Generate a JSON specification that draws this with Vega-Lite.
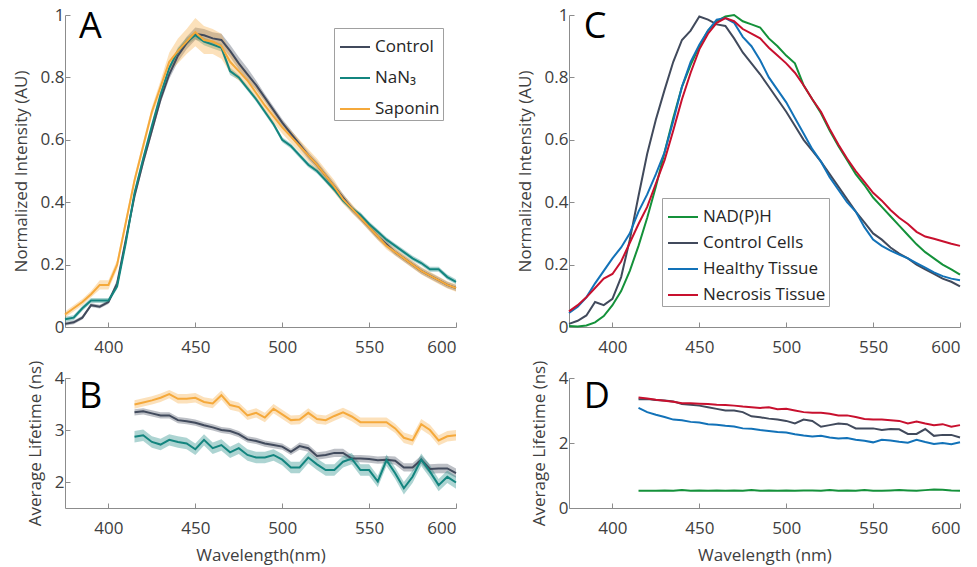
{
"$schema": "https://vega.github.io/schema/vega-lite/v6.json",
"background": "white",
"padding": {"left": 12, "top": 6, "right": 2, "bottom": 2},
"config": {
  "font": "Open Sans",
  "view": {"stroke": null},
  "axis": {"grid": false, "domainColor": "#8c8c8c", "tickColor": "#8c8c8c", "tickSize": -5, "labelColor": "#404040", "titleColor": "#404040", "labelFontSize": 17, "titleFontSize": 17, "titleFontWeight": "normal", "labelFont": "Open Sans", "titleFont": "Open Sans", "format": "~r"},
  "axisX": {"labelPadding": 17, "titlePadding": 11},
  "axisY": {"labelPadding": 6, "titlePadding": 10},
  "legend": {"title": null, "symbolType": "stroke", "symbolSize": 900, "symbolStrokeWidth": 2, "symbolOpacity": 1, "labelFontSize": 17, "labelFont": "Open Sans", "labelColor": "#262626", "strokeColor": "#a0a0a0", "fillColor": "white", "padding": 3, "symbolOffset": 2, "labelOffset": 4}
},
"datasets": {
"a": [
{"s":"Control","w":375,"v":0.01,"e":0.006},{"s":"Control","w":380,"v":0.015,"e":0.006},{"s":"Control","w":385,"v":0.03,"e":0.006},{"s":"Control","w":390,"v":0.07,"e":0.006},{"s":"Control","w":395,"v":0.065,"e":0.006},{"s":"Control","w":400,"v":0.08,"e":0.006},{"s":"Control","w":405,"v":0.14,"e":0.012},{"s":"Control","w":410,"v":0.28,"e":0.012},{"s":"Control","w":415,"v":0.42,"e":0.012},{"s":"Control","w":420,"v":0.53,"e":0.012},{"s":"Control","w":425,"v":0.63,"e":0.012},{"s":"Control","w":430,"v":0.73,"e":0.012},{"s":"Control","w":435,"v":0.81,"e":0.015},{"s":"Control","w":440,"v":0.87,"e":0.02},{"s":"Control","w":445,"v":0.91,"e":0.02},{"s":"Control","w":450,"v":0.94,"e":0.02},{"s":"Control","w":455,"v":0.935,"e":0.02},{"s":"Control","w":460,"v":0.925,"e":0.02},{"s":"Control","w":465,"v":0.92,"e":0.02},{"s":"Control","w":470,"v":0.885,"e":0.02},{"s":"Control","w":475,"v":0.845,"e":0.02},{"s":"Control","w":480,"v":0.81,"e":0.02},{"s":"Control","w":485,"v":0.775,"e":0.015},{"s":"Control","w":490,"v":0.735,"e":0.012},{"s":"Control","w":495,"v":0.695,"e":0.012},{"s":"Control","w":500,"v":0.655,"e":0.012},{"s":"Control","w":505,"v":0.62,"e":0.012},{"s":"Control","w":510,"v":0.585,"e":0.012},{"s":"Control","w":515,"v":0.55,"e":0.012},{"s":"Control","w":520,"v":0.52,"e":0.012},{"s":"Control","w":525,"v":0.485,"e":0.012},{"s":"Control","w":530,"v":0.45,"e":0.012},{"s":"Control","w":535,"v":0.415,"e":0.012},{"s":"Control","w":540,"v":0.38,"e":0.012},{"s":"Control","w":545,"v":0.35,"e":0.01},{"s":"Control","w":550,"v":0.32,"e":0.01},{"s":"Control","w":555,"v":0.29,"e":0.01},{"s":"Control","w":560,"v":0.265,"e":0.01},{"s":"Control","w":565,"v":0.24,"e":0.01},{"s":"Control","w":570,"v":0.22,"e":0.01},{"s":"Control","w":575,"v":0.2,"e":0.01},{"s":"Control","w":580,"v":0.18,"e":0.01},{"s":"Control","w":585,"v":0.165,"e":0.01},{"s":"Control","w":590,"v":0.15,"e":0.01},{"s":"Control","w":595,"v":0.135,"e":0.01},{"s":"Control","w":600,"v":0.125,"e":0.01},
{"s":"NaN₃","w":375,"v":0.025,"e":0.008},{"s":"NaN₃","w":380,"v":0.03,"e":0.008},{"s":"NaN₃","w":385,"v":0.06,"e":0.008},{"s":"NaN₃","w":390,"v":0.085,"e":0.008},{"s":"NaN₃","w":395,"v":0.085,"e":0.008},{"s":"NaN₃","w":400,"v":0.085,"e":0.008},{"s":"NaN₃","w":405,"v":0.13,"e":0.008},{"s":"NaN₃","w":410,"v":0.27,"e":0.008},{"s":"NaN₃","w":415,"v":0.43,"e":0.008},{"s":"NaN₃","w":420,"v":0.54,"e":0.008},{"s":"NaN₃","w":425,"v":0.645,"e":0.008},{"s":"NaN₃","w":430,"v":0.745,"e":0.008},{"s":"NaN₃","w":435,"v":0.83,"e":0.008},{"s":"NaN₃","w":440,"v":0.885,"e":0.012},{"s":"NaN₃","w":445,"v":0.915,"e":0.012},{"s":"NaN₃","w":450,"v":0.935,"e":0.012},{"s":"NaN₃","w":455,"v":0.915,"e":0.012},{"s":"NaN₃","w":460,"v":0.905,"e":0.012},{"s":"NaN₃","w":465,"v":0.895,"e":0.012},{"s":"NaN₃","w":470,"v":0.82,"e":0.012},{"s":"NaN₃","w":475,"v":0.8,"e":0.008},{"s":"NaN₃","w":480,"v":0.765,"e":0.008},{"s":"NaN₃","w":485,"v":0.73,"e":0.008},{"s":"NaN₃","w":490,"v":0.69,"e":0.008},{"s":"NaN₃","w":495,"v":0.65,"e":0.008},{"s":"NaN₃","w":500,"v":0.6,"e":0.008},{"s":"NaN₃","w":505,"v":0.58,"e":0.008},{"s":"NaN₃","w":510,"v":0.55,"e":0.008},{"s":"NaN₃","w":515,"v":0.52,"e":0.008},{"s":"NaN₃","w":520,"v":0.5,"e":0.008},{"s":"NaN₃","w":525,"v":0.47,"e":0.008},{"s":"NaN₃","w":530,"v":0.44,"e":0.008},{"s":"NaN₃","w":535,"v":0.405,"e":0.008},{"s":"NaN₃","w":540,"v":0.38,"e":0.008},{"s":"NaN₃","w":545,"v":0.36,"e":0.008},{"s":"NaN₃","w":550,"v":0.33,"e":0.008},{"s":"NaN₃","w":555,"v":0.305,"e":0.008},{"s":"NaN₃","w":560,"v":0.28,"e":0.008},{"s":"NaN₃","w":565,"v":0.26,"e":0.008},{"s":"NaN₃","w":570,"v":0.24,"e":0.008},{"s":"NaN₃","w":575,"v":0.22,"e":0.008},{"s":"NaN₃","w":580,"v":0.205,"e":0.008},{"s":"NaN₃","w":585,"v":0.185,"e":0.008},{"s":"NaN₃","w":590,"v":0.185,"e":0.008},{"s":"NaN₃","w":595,"v":0.16,"e":0.008},{"s":"NaN₃","w":600,"v":0.145,"e":0.008},
{"s":"Saponin","w":375,"v":0.04,"e":0.01},{"s":"Saponin","w":380,"v":0.06,"e":0.01},{"s":"Saponin","w":385,"v":0.08,"e":0.01},{"s":"Saponin","w":390,"v":0.105,"e":0.01},{"s":"Saponin","w":395,"v":0.135,"e":0.015},{"s":"Saponin","w":400,"v":0.135,"e":0.015},{"s":"Saponin","w":405,"v":0.2,"e":0.015},{"s":"Saponin","w":410,"v":0.335,"e":0.015},{"s":"Saponin","w":415,"v":0.47,"e":0.015},{"s":"Saponin","w":420,"v":0.58,"e":0.015},{"s":"Saponin","w":425,"v":0.69,"e":0.015},{"s":"Saponin","w":430,"v":0.77,"e":0.02},{"s":"Saponin","w":435,"v":0.85,"e":0.03},{"s":"Saponin","w":440,"v":0.885,"e":0.04},{"s":"Saponin","w":445,"v":0.915,"e":0.04},{"s":"Saponin","w":450,"v":0.945,"e":0.045},{"s":"Saponin","w":455,"v":0.92,"e":0.045},{"s":"Saponin","w":460,"v":0.915,"e":0.04},{"s":"Saponin","w":465,"v":0.9,"e":0.04},{"s":"Saponin","w":470,"v":0.85,"e":0.035},{"s":"Saponin","w":475,"v":0.82,"e":0.03},{"s":"Saponin","w":480,"v":0.79,"e":0.025},{"s":"Saponin","w":485,"v":0.75,"e":0.02},{"s":"Saponin","w":490,"v":0.71,"e":0.02},{"s":"Saponin","w":495,"v":0.675,"e":0.02},{"s":"Saponin","w":500,"v":0.64,"e":0.02},{"s":"Saponin","w":505,"v":0.61,"e":0.02},{"s":"Saponin","w":510,"v":0.58,"e":0.02},{"s":"Saponin","w":515,"v":0.55,"e":0.02},{"s":"Saponin","w":520,"v":0.52,"e":0.02},{"s":"Saponin","w":525,"v":0.485,"e":0.02},{"s":"Saponin","w":530,"v":0.45,"e":0.02},{"s":"Saponin","w":535,"v":0.41,"e":0.015},{"s":"Saponin","w":540,"v":0.38,"e":0.015},{"s":"Saponin","w":545,"v":0.35,"e":0.012},{"s":"Saponin","w":550,"v":0.32,"e":0.012},{"s":"Saponin","w":555,"v":0.29,"e":0.012},{"s":"Saponin","w":560,"v":0.26,"e":0.012},{"s":"Saponin","w":565,"v":0.24,"e":0.012},{"s":"Saponin","w":570,"v":0.22,"e":0.012},{"s":"Saponin","w":575,"v":0.2,"e":0.012},{"s":"Saponin","w":580,"v":0.18,"e":0.012},{"s":"Saponin","w":585,"v":0.165,"e":0.012},{"s":"Saponin","w":590,"v":0.15,"e":0.012},{"s":"Saponin","w":595,"v":0.135,"e":0.012},{"s":"Saponin","w":600,"v":0.125,"e":0.012}
],
"b": [
{"s":"Control","w":415,"v":3.34,"e":0.06},{"s":"Control","w":420,"v":3.36,"e":0.06},{"s":"Control","w":425,"v":3.32,"e":0.06},{"s":"Control","w":430,"v":3.28,"e":0.06},{"s":"Control","w":435,"v":3.28,"e":0.06},{"s":"Control","w":440,"v":3.19,"e":0.06},{"s":"Control","w":445,"v":3.17,"e":0.06},{"s":"Control","w":450,"v":3.14,"e":0.06},{"s":"Control","w":455,"v":3.09,"e":0.06},{"s":"Control","w":460,"v":3.05,"e":0.06},{"s":"Control","w":465,"v":3.0,"e":0.06},{"s":"Control","w":470,"v":2.98,"e":0.06},{"s":"Control","w":475,"v":2.92,"e":0.06},{"s":"Control","w":480,"v":2.82,"e":0.06},{"s":"Control","w":485,"v":2.79,"e":0.06},{"s":"Control","w":490,"v":2.74,"e":0.06},{"s":"Control","w":495,"v":2.71,"e":0.06},{"s":"Control","w":500,"v":2.68,"e":0.06},{"s":"Control","w":505,"v":2.58,"e":0.06},{"s":"Control","w":510,"v":2.69,"e":0.07},{"s":"Control","w":515,"v":2.65,"e":0.07},{"s":"Control","w":520,"v":2.5,"e":0.07},{"s":"Control","w":525,"v":2.52,"e":0.07},{"s":"Control","w":530,"v":2.56,"e":0.08},{"s":"Control","w":535,"v":2.56,"e":0.08},{"s":"Control","w":540,"v":2.45,"e":0.07},{"s":"Control","w":545,"v":2.45,"e":0.07},{"s":"Control","w":550,"v":2.44,"e":0.07},{"s":"Control","w":555,"v":2.42,"e":0.07},{"s":"Control","w":560,"v":2.43,"e":0.07},{"s":"Control","w":565,"v":2.41,"e":0.08},{"s":"Control","w":570,"v":2.28,"e":0.08},{"s":"Control","w":575,"v":2.28,"e":0.08},{"s":"Control","w":580,"v":2.43,"e":0.08},{"s":"Control","w":585,"v":2.25,"e":0.09},{"s":"Control","w":590,"v":2.26,"e":0.09},{"s":"Control","w":595,"v":2.26,"e":0.09},{"s":"Control","w":600,"v":2.17,"e":0.09},
{"s":"NaN₃","w":415,"v":2.87,"e":0.11},{"s":"NaN₃","w":420,"v":2.9,"e":0.11},{"s":"NaN₃","w":425,"v":2.77,"e":0.11},{"s":"NaN₃","w":430,"v":2.72,"e":0.11},{"s":"NaN₃","w":435,"v":2.81,"e":0.11},{"s":"NaN₃","w":440,"v":2.77,"e":0.11},{"s":"NaN₃","w":445,"v":2.74,"e":0.11},{"s":"NaN₃","w":450,"v":2.63,"e":0.11},{"s":"NaN₃","w":455,"v":2.81,"e":0.11},{"s":"NaN₃","w":460,"v":2.65,"e":0.11},{"s":"NaN₃","w":465,"v":2.71,"e":0.11},{"s":"NaN₃","w":470,"v":2.57,"e":0.11},{"s":"NaN₃","w":475,"v":2.65,"e":0.11},{"s":"NaN₃","w":480,"v":2.52,"e":0.11},{"s":"NaN₃","w":485,"v":2.47,"e":0.11},{"s":"NaN₃","w":490,"v":2.47,"e":0.11},{"s":"NaN₃","w":495,"v":2.52,"e":0.11},{"s":"NaN₃","w":500,"v":2.43,"e":0.11},{"s":"NaN₃","w":505,"v":2.28,"e":0.11},{"s":"NaN₃","w":510,"v":2.28,"e":0.11},{"s":"NaN₃","w":515,"v":2.47,"e":0.11},{"s":"NaN₃","w":520,"v":2.34,"e":0.11},{"s":"NaN₃","w":525,"v":2.23,"e":0.11},{"s":"NaN₃","w":530,"v":2.23,"e":0.11},{"s":"NaN₃","w":535,"v":2.39,"e":0.11},{"s":"NaN₃","w":540,"v":2.45,"e":0.11},{"s":"NaN₃","w":545,"v":2.23,"e":0.11},{"s":"NaN₃","w":550,"v":2.23,"e":0.11},{"s":"NaN₃","w":555,"v":2.01,"e":0.11},{"s":"NaN₃","w":560,"v":2.42,"e":0.11},{"s":"NaN₃","w":565,"v":2.17,"e":0.11},{"s":"NaN₃","w":570,"v":1.88,"e":0.12},{"s":"NaN₃","w":575,"v":2.1,"e":0.12},{"s":"NaN₃","w":580,"v":2.43,"e":0.12},{"s":"NaN₃","w":585,"v":2.2,"e":0.12},{"s":"NaN₃","w":590,"v":1.94,"e":0.12},{"s":"NaN₃","w":595,"v":2.1,"e":0.12},{"s":"NaN₃","w":600,"v":1.99,"e":0.12},
{"s":"Saponin","w":415,"v":3.49,"e":0.08},{"s":"Saponin","w":420,"v":3.53,"e":0.08},{"s":"Saponin","w":425,"v":3.57,"e":0.08},{"s":"Saponin","w":430,"v":3.62,"e":0.08},{"s":"Saponin","w":435,"v":3.69,"e":0.08},{"s":"Saponin","w":440,"v":3.6,"e":0.09},{"s":"Saponin","w":445,"v":3.6,"e":0.09},{"s":"Saponin","w":450,"v":3.62,"e":0.09},{"s":"Saponin","w":455,"v":3.54,"e":0.09},{"s":"Saponin","w":460,"v":3.51,"e":0.09},{"s":"Saponin","w":465,"v":3.67,"e":0.09},{"s":"Saponin","w":470,"v":3.48,"e":0.09},{"s":"Saponin","w":475,"v":3.44,"e":0.09},{"s":"Saponin","w":480,"v":3.28,"e":0.09},{"s":"Saponin","w":485,"v":3.33,"e":0.09},{"s":"Saponin","w":490,"v":3.24,"e":0.09},{"s":"Saponin","w":495,"v":3.41,"e":0.09},{"s":"Saponin","w":500,"v":3.3,"e":0.09},{"s":"Saponin","w":505,"v":3.19,"e":0.09},{"s":"Saponin","w":510,"v":3.2,"e":0.09},{"s":"Saponin","w":515,"v":3.33,"e":0.09},{"s":"Saponin","w":520,"v":3.21,"e":0.09},{"s":"Saponin","w":525,"v":3.19,"e":0.09},{"s":"Saponin","w":530,"v":3.27,"e":0.09},{"s":"Saponin","w":535,"v":3.34,"e":0.09},{"s":"Saponin","w":540,"v":3.26,"e":0.09},{"s":"Saponin","w":545,"v":3.15,"e":0.09},{"s":"Saponin","w":550,"v":3.15,"e":0.09},{"s":"Saponin","w":555,"v":3.15,"e":0.09},{"s":"Saponin","w":560,"v":3.15,"e":0.09},{"s":"Saponin","w":565,"v":3.03,"e":0.09},{"s":"Saponin","w":570,"v":2.85,"e":0.1},{"s":"Saponin","w":575,"v":2.8,"e":0.1},{"s":"Saponin","w":580,"v":3.11,"e":0.1},{"s":"Saponin","w":585,"v":3.0,"e":0.1},{"s":"Saponin","w":590,"v":2.8,"e":0.1},{"s":"Saponin","w":595,"v":2.88,"e":0.1},{"s":"Saponin","w":600,"v":2.9,"e":0.1}
],
"c": [
{"s":"NAD(P)H","w":375,"v":0.003},{"s":"NAD(P)H","w":380,"v":0.002},{"s":"NAD(P)H","w":385,"v":0.005},{"s":"NAD(P)H","w":390,"v":0.015},{"s":"NAD(P)H","w":395,"v":0.035},{"s":"NAD(P)H","w":400,"v":0.07},{"s":"NAD(P)H","w":405,"v":0.115},{"s":"NAD(P)H","w":410,"v":0.18},{"s":"NAD(P)H","w":415,"v":0.26},{"s":"NAD(P)H","w":420,"v":0.35},{"s":"NAD(P)H","w":425,"v":0.45},{"s":"NAD(P)H","w":430,"v":0.56},{"s":"NAD(P)H","w":435,"v":0.67},{"s":"NAD(P)H","w":440,"v":0.77},{"s":"NAD(P)H","w":445,"v":0.84},{"s":"NAD(P)H","w":450,"v":0.9},{"s":"NAD(P)H","w":455,"v":0.95},{"s":"NAD(P)H","w":460,"v":0.98},{"s":"NAD(P)H","w":465,"v":0.995},{"s":"NAD(P)H","w":470,"v":1.0},{"s":"NAD(P)H","w":475,"v":0.98},{"s":"NAD(P)H","w":480,"v":0.97},{"s":"NAD(P)H","w":485,"v":0.96},{"s":"NAD(P)H","w":490,"v":0.925},{"s":"NAD(P)H","w":495,"v":0.9},{"s":"NAD(P)H","w":500,"v":0.87},{"s":"NAD(P)H","w":505,"v":0.845},{"s":"NAD(P)H","w":510,"v":0.775},{"s":"NAD(P)H","w":515,"v":0.73},{"s":"NAD(P)H","w":520,"v":0.685},{"s":"NAD(P)H","w":525,"v":0.63},{"s":"NAD(P)H","w":530,"v":0.58},{"s":"NAD(P)H","w":535,"v":0.535},{"s":"NAD(P)H","w":540,"v":0.49},{"s":"NAD(P)H","w":545,"v":0.455},{"s":"NAD(P)H","w":550,"v":0.415},{"s":"NAD(P)H","w":555,"v":0.385},{"s":"NAD(P)H","w":560,"v":0.355},{"s":"NAD(P)H","w":565,"v":0.325},{"s":"NAD(P)H","w":570,"v":0.295},{"s":"NAD(P)H","w":575,"v":0.265},{"s":"NAD(P)H","w":580,"v":0.24},{"s":"NAD(P)H","w":585,"v":0.22},{"s":"NAD(P)H","w":590,"v":0.2},{"s":"NAD(P)H","w":595,"v":0.185},{"s":"NAD(P)H","w":600,"v":0.168},
{"s":"Control Cells","w":375,"v":0.01},{"s":"Control Cells","w":380,"v":0.02},{"s":"Control Cells","w":385,"v":0.037},{"s":"Control Cells","w":390,"v":0.08},{"s":"Control Cells","w":395,"v":0.07},{"s":"Control Cells","w":400,"v":0.09},{"s":"Control Cells","w":405,"v":0.16},{"s":"Control Cells","w":410,"v":0.28},{"s":"Control Cells","w":415,"v":0.42},{"s":"Control Cells","w":420,"v":0.555},{"s":"Control Cells","w":425,"v":0.665},{"s":"Control Cells","w":430,"v":0.76},{"s":"Control Cells","w":435,"v":0.85},{"s":"Control Cells","w":440,"v":0.92},{"s":"Control Cells","w":445,"v":0.95},{"s":"Control Cells","w":450,"v":0.995},{"s":"Control Cells","w":455,"v":0.985},{"s":"Control Cells","w":460,"v":0.97},{"s":"Control Cells","w":465,"v":0.965},{"s":"Control Cells","w":470,"v":0.925},{"s":"Control Cells","w":475,"v":0.88},{"s":"Control Cells","w":480,"v":0.845},{"s":"Control Cells","w":485,"v":0.81},{"s":"Control Cells","w":490,"v":0.77},{"s":"Control Cells","w":495,"v":0.73},{"s":"Control Cells","w":500,"v":0.69},{"s":"Control Cells","w":505,"v":0.645},{"s":"Control Cells","w":510,"v":0.6},{"s":"Control Cells","w":515,"v":0.565},{"s":"Control Cells","w":520,"v":0.53},{"s":"Control Cells","w":525,"v":0.49},{"s":"Control Cells","w":530,"v":0.45},{"s":"Control Cells","w":535,"v":0.41},{"s":"Control Cells","w":540,"v":0.37},{"s":"Control Cells","w":545,"v":0.335},{"s":"Control Cells","w":550,"v":0.3},{"s":"Control Cells","w":555,"v":0.28},{"s":"Control Cells","w":560,"v":0.255},{"s":"Control Cells","w":565,"v":0.235},{"s":"Control Cells","w":570,"v":0.22},{"s":"Control Cells","w":575,"v":0.2},{"s":"Control Cells","w":580,"v":0.185},{"s":"Control Cells","w":585,"v":0.17},{"s":"Control Cells","w":590,"v":0.155},{"s":"Control Cells","w":595,"v":0.145},{"s":"Control Cells","w":600,"v":0.13},
{"s":"Healthy Tissue","w":375,"v":0.045},{"s":"Healthy Tissue","w":380,"v":0.065},{"s":"Healthy Tissue","w":385,"v":0.095},{"s":"Healthy Tissue","w":390,"v":0.14},{"s":"Healthy Tissue","w":395,"v":0.18},{"s":"Healthy Tissue","w":400,"v":0.22},{"s":"Healthy Tissue","w":405,"v":0.255},{"s":"Healthy Tissue","w":410,"v":0.3},{"s":"Healthy Tissue","w":415,"v":0.37},{"s":"Healthy Tissue","w":420,"v":0.425},{"s":"Healthy Tissue","w":425,"v":0.49},{"s":"Healthy Tissue","w":430,"v":0.56},{"s":"Healthy Tissue","w":435,"v":0.66},{"s":"Healthy Tissue","w":440,"v":0.77},{"s":"Healthy Tissue","w":445,"v":0.85},{"s":"Healthy Tissue","w":450,"v":0.905},{"s":"Healthy Tissue","w":455,"v":0.95},{"s":"Healthy Tissue","w":460,"v":0.985},{"s":"Healthy Tissue","w":465,"v":0.99},{"s":"Healthy Tissue","w":470,"v":0.975},{"s":"Healthy Tissue","w":475,"v":0.93},{"s":"Healthy Tissue","w":480,"v":0.9},{"s":"Healthy Tissue","w":485,"v":0.855},{"s":"Healthy Tissue","w":490,"v":0.8},{"s":"Healthy Tissue","w":495,"v":0.76},{"s":"Healthy Tissue","w":500,"v":0.72},{"s":"Healthy Tissue","w":505,"v":0.67},{"s":"Healthy Tissue","w":510,"v":0.62},{"s":"Healthy Tissue","w":515,"v":0.57},{"s":"Healthy Tissue","w":520,"v":0.53},{"s":"Healthy Tissue","w":525,"v":0.48},{"s":"Healthy Tissue","w":530,"v":0.44},{"s":"Healthy Tissue","w":535,"v":0.4},{"s":"Healthy Tissue","w":540,"v":0.37},{"s":"Healthy Tissue","w":545,"v":0.32},{"s":"Healthy Tissue","w":550,"v":0.28},{"s":"Healthy Tissue","w":555,"v":0.26},{"s":"Healthy Tissue","w":560,"v":0.245},{"s":"Healthy Tissue","w":565,"v":0.232},{"s":"Healthy Tissue","w":570,"v":0.22},{"s":"Healthy Tissue","w":575,"v":0.205},{"s":"Healthy Tissue","w":580,"v":0.19},{"s":"Healthy Tissue","w":585,"v":0.175},{"s":"Healthy Tissue","w":590,"v":0.163},{"s":"Healthy Tissue","w":595,"v":0.155},{"s":"Healthy Tissue","w":600,"v":0.15},
{"s":"Necrosis Tissue","w":375,"v":0.05},{"s":"Necrosis Tissue","w":380,"v":0.07},{"s":"Necrosis Tissue","w":385,"v":0.095},{"s":"Necrosis Tissue","w":390,"v":0.125},{"s":"Necrosis Tissue","w":395,"v":0.155},{"s":"Necrosis Tissue","w":400,"v":0.17},{"s":"Necrosis Tissue","w":405,"v":0.21},{"s":"Necrosis Tissue","w":410,"v":0.27},{"s":"Necrosis Tissue","w":415,"v":0.33},{"s":"Necrosis Tissue","w":420,"v":0.385},{"s":"Necrosis Tissue","w":425,"v":0.46},{"s":"Necrosis Tissue","w":430,"v":0.535},{"s":"Necrosis Tissue","w":435,"v":0.63},{"s":"Necrosis Tissue","w":440,"v":0.73},{"s":"Necrosis Tissue","w":445,"v":0.815},{"s":"Necrosis Tissue","w":450,"v":0.89},{"s":"Necrosis Tissue","w":455,"v":0.94},{"s":"Necrosis Tissue","w":460,"v":0.975},{"s":"Necrosis Tissue","w":465,"v":0.99},{"s":"Necrosis Tissue","w":470,"v":0.98},{"s":"Necrosis Tissue","w":475,"v":0.955},{"s":"Necrosis Tissue","w":480,"v":0.94},{"s":"Necrosis Tissue","w":485,"v":0.925},{"s":"Necrosis Tissue","w":490,"v":0.895},{"s":"Necrosis Tissue","w":495,"v":0.87},{"s":"Necrosis Tissue","w":500,"v":0.845},{"s":"Necrosis Tissue","w":505,"v":0.815},{"s":"Necrosis Tissue","w":510,"v":0.775},{"s":"Necrosis Tissue","w":515,"v":0.73},{"s":"Necrosis Tissue","w":520,"v":0.69},{"s":"Necrosis Tissue","w":525,"v":0.635},{"s":"Necrosis Tissue","w":530,"v":0.585},{"s":"Necrosis Tissue","w":535,"v":0.54},{"s":"Necrosis Tissue","w":540,"v":0.5},{"s":"Necrosis Tissue","w":545,"v":0.465},{"s":"Necrosis Tissue","w":550,"v":0.43},{"s":"Necrosis Tissue","w":555,"v":0.405},{"s":"Necrosis Tissue","w":560,"v":0.375},{"s":"Necrosis Tissue","w":565,"v":0.35},{"s":"Necrosis Tissue","w":570,"v":0.33},{"s":"Necrosis Tissue","w":575,"v":0.305},{"s":"Necrosis Tissue","w":580,"v":0.29},{"s":"Necrosis Tissue","w":585,"v":0.283},{"s":"Necrosis Tissue","w":590,"v":0.275},{"s":"Necrosis Tissue","w":595,"v":0.267},{"s":"Necrosis Tissue","w":600,"v":0.26}
],
"d": [
{"s":"NAD(P)H","w":415,"v":0.53},{"s":"NAD(P)H","w":420,"v":0.53},{"s":"NAD(P)H","w":425,"v":0.53},{"s":"NAD(P)H","w":430,"v":0.54},{"s":"NAD(P)H","w":435,"v":0.53},{"s":"NAD(P)H","w":440,"v":0.55},{"s":"NAD(P)H","w":445,"v":0.53},{"s":"NAD(P)H","w":450,"v":0.54},{"s":"NAD(P)H","w":455,"v":0.53},{"s":"NAD(P)H","w":460,"v":0.54},{"s":"NAD(P)H","w":465,"v":0.53},{"s":"NAD(P)H","w":470,"v":0.54},{"s":"NAD(P)H","w":475,"v":0.53},{"s":"NAD(P)H","w":480,"v":0.55},{"s":"NAD(P)H","w":485,"v":0.53},{"s":"NAD(P)H","w":490,"v":0.54},{"s":"NAD(P)H","w":495,"v":0.53},{"s":"NAD(P)H","w":500,"v":0.54},{"s":"NAD(P)H","w":505,"v":0.53},{"s":"NAD(P)H","w":510,"v":0.54},{"s":"NAD(P)H","w":515,"v":0.54},{"s":"NAD(P)H","w":520,"v":0.53},{"s":"NAD(P)H","w":525,"v":0.55},{"s":"NAD(P)H","w":530,"v":0.53},{"s":"NAD(P)H","w":535,"v":0.54},{"s":"NAD(P)H","w":540,"v":0.53},{"s":"NAD(P)H","w":545,"v":0.55},{"s":"NAD(P)H","w":550,"v":0.53},{"s":"NAD(P)H","w":555,"v":0.53},{"s":"NAD(P)H","w":560,"v":0.54},{"s":"NAD(P)H","w":565,"v":0.55},{"s":"NAD(P)H","w":570,"v":0.54},{"s":"NAD(P)H","w":575,"v":0.53},{"s":"NAD(P)H","w":580,"v":0.55},{"s":"NAD(P)H","w":585,"v":0.57},{"s":"NAD(P)H","w":590,"v":0.56},{"s":"NAD(P)H","w":595,"v":0.54},{"s":"NAD(P)H","w":600,"v":0.53},
{"s":"Control Cells","w":415,"v":3.35},{"s":"Control Cells","w":420,"v":3.35},{"s":"Control Cells","w":425,"v":3.32},{"s":"Control Cells","w":430,"v":3.31},{"s":"Control Cells","w":435,"v":3.28},{"s":"Control Cells","w":440,"v":3.2},{"s":"Control Cells","w":445,"v":3.18},{"s":"Control Cells","w":450,"v":3.15},{"s":"Control Cells","w":455,"v":3.1},{"s":"Control Cells","w":460,"v":3.05},{"s":"Control Cells","w":465,"v":3.0},{"s":"Control Cells","w":470,"v":3.0},{"s":"Control Cells","w":475,"v":2.95},{"s":"Control Cells","w":480,"v":2.82},{"s":"Control Cells","w":485,"v":2.79},{"s":"Control Cells","w":490,"v":2.75},{"s":"Control Cells","w":495,"v":2.72},{"s":"Control Cells","w":500,"v":2.68},{"s":"Control Cells","w":505,"v":2.6},{"s":"Control Cells","w":510,"v":2.72},{"s":"Control Cells","w":515,"v":2.68},{"s":"Control Cells","w":520,"v":2.5},{"s":"Control Cells","w":525,"v":2.55},{"s":"Control Cells","w":530,"v":2.6},{"s":"Control Cells","w":535,"v":2.58},{"s":"Control Cells","w":540,"v":2.45},{"s":"Control Cells","w":545,"v":2.45},{"s":"Control Cells","w":550,"v":2.45},{"s":"Control Cells","w":555,"v":2.4},{"s":"Control Cells","w":560,"v":2.43},{"s":"Control Cells","w":565,"v":2.42},{"s":"Control Cells","w":570,"v":2.28},{"s":"Control Cells","w":575,"v":2.28},{"s":"Control Cells","w":580,"v":2.43},{"s":"Control Cells","w":585,"v":2.22},{"s":"Control Cells","w":590,"v":2.25},{"s":"Control Cells","w":595,"v":2.25},{"s":"Control Cells","w":600,"v":2.17},
{"s":"Healthy Tissue","w":415,"v":3.08},{"s":"Healthy Tissue","w":420,"v":2.95},{"s":"Healthy Tissue","w":425,"v":2.87},{"s":"Healthy Tissue","w":430,"v":2.8},{"s":"Healthy Tissue","w":435,"v":2.72},{"s":"Healthy Tissue","w":440,"v":2.7},{"s":"Healthy Tissue","w":445,"v":2.65},{"s":"Healthy Tissue","w":450,"v":2.63},{"s":"Healthy Tissue","w":455,"v":2.58},{"s":"Healthy Tissue","w":460,"v":2.56},{"s":"Healthy Tissue","w":465,"v":2.53},{"s":"Healthy Tissue","w":470,"v":2.51},{"s":"Healthy Tissue","w":475,"v":2.45},{"s":"Healthy Tissue","w":480,"v":2.44},{"s":"Healthy Tissue","w":485,"v":2.4},{"s":"Healthy Tissue","w":490,"v":2.37},{"s":"Healthy Tissue","w":495,"v":2.34},{"s":"Healthy Tissue","w":500,"v":2.32},{"s":"Healthy Tissue","w":505,"v":2.27},{"s":"Healthy Tissue","w":510,"v":2.23},{"s":"Healthy Tissue","w":515,"v":2.2},{"s":"Healthy Tissue","w":520,"v":2.22},{"s":"Healthy Tissue","w":525,"v":2.17},{"s":"Healthy Tissue","w":530,"v":2.14},{"s":"Healthy Tissue","w":535,"v":2.15},{"s":"Healthy Tissue","w":540,"v":2.1},{"s":"Healthy Tissue","w":545,"v":2.07},{"s":"Healthy Tissue","w":550,"v":2.02},{"s":"Healthy Tissue","w":555,"v":2.1},{"s":"Healthy Tissue","w":560,"v":2.08},{"s":"Healthy Tissue","w":565,"v":2.04},{"s":"Healthy Tissue","w":570,"v":2.01},{"s":"Healthy Tissue","w":575,"v":2.1},{"s":"Healthy Tissue","w":580,"v":2.03},{"s":"Healthy Tissue","w":585,"v":1.97},{"s":"Healthy Tissue","w":590,"v":2.0},{"s":"Healthy Tissue","w":595,"v":1.96},{"s":"Healthy Tissue","w":600,"v":2.02},
{"s":"Necrosis Tissue","w":415,"v":3.4},{"s":"Necrosis Tissue","w":420,"v":3.37},{"s":"Necrosis Tissue","w":425,"v":3.33},{"s":"Necrosis Tissue","w":430,"v":3.3},{"s":"Necrosis Tissue","w":435,"v":3.27},{"s":"Necrosis Tissue","w":440,"v":3.22},{"s":"Necrosis Tissue","w":445,"v":3.22},{"s":"Necrosis Tissue","w":450,"v":3.21},{"s":"Necrosis Tissue","w":455,"v":3.2},{"s":"Necrosis Tissue","w":460,"v":3.18},{"s":"Necrosis Tissue","w":465,"v":3.17},{"s":"Necrosis Tissue","w":470,"v":3.15},{"s":"Necrosis Tissue","w":475,"v":3.12},{"s":"Necrosis Tissue","w":480,"v":3.1},{"s":"Necrosis Tissue","w":485,"v":3.08},{"s":"Necrosis Tissue","w":490,"v":3.1},{"s":"Necrosis Tissue","w":495,"v":3.04},{"s":"Necrosis Tissue","w":500,"v":3.05},{"s":"Necrosis Tissue","w":505,"v":3.0},{"s":"Necrosis Tissue","w":510,"v":2.95},{"s":"Necrosis Tissue","w":515,"v":2.93},{"s":"Necrosis Tissue","w":520,"v":2.93},{"s":"Necrosis Tissue","w":525,"v":2.9},{"s":"Necrosis Tissue","w":530,"v":2.85},{"s":"Necrosis Tissue","w":535,"v":2.85},{"s":"Necrosis Tissue","w":540,"v":2.8},{"s":"Necrosis Tissue","w":545,"v":2.74},{"s":"Necrosis Tissue","w":550,"v":2.72},{"s":"Necrosis Tissue","w":555,"v":2.72},{"s":"Necrosis Tissue","w":560,"v":2.7},{"s":"Necrosis Tissue","w":565,"v":2.68},{"s":"Necrosis Tissue","w":570,"v":2.6},{"s":"Necrosis Tissue","w":575,"v":2.66},{"s":"Necrosis Tissue","w":580,"v":2.6},{"s":"Necrosis Tissue","w":585,"v":2.55},{"s":"Necrosis Tissue","w":590,"v":2.58},{"s":"Necrosis Tissue","w":595,"v":2.5},{"s":"Necrosis Tissue","w":600,"v":2.55}
]
},
"columns": 2,
"spacing": {"row": 51, "column": 113},
"bounds": "flush",
"resolve": {"scale": {"color": "independent"}, "legend": {"color": "independent"}},
"concat": [
  {"width": 391, "height": 312, "data": {"name": "a"},
   "layer": [
    {"mark": {"type": "errorband", "band": {"opacity": 0.35}},
     "encoding": {
      "x": {"field": "w", "type": "quantitative", "scale": {"domain": [375, 600], "nice": false}, "axis": {"values": [400, 450, 500, 550, 600], "title": null}},
      "y": {"field": "v", "type": "quantitative", "scale": {"domain": [0, 1], "nice": false}, "axis": {"values": [0, 0.2, 0.4, 0.6, 0.8, 1], "title": "Normalized Intensity (AU)"}},
      "yError": {"field": "e"},
      "color": {"field": "s", "type": "nominal", "scale": {"domain": ["Control", "NaN₃", "Saponin"], "range": ["#414a5c", "#13857f", "#f5a93b"]}, "legend": {"orient": "top-right", "offset": 13, "rowPadding": 7}}}},
    {"mark": {"type": "line", "strokeWidth": 2},
     "encoding": {
      "x": {"field": "w", "type": "quantitative"},
      "y": {"field": "v", "type": "quantitative"},
      "color": {"field": "s", "type": "nominal", "legend": {"orient": "top-right", "offset": 13, "rowPadding": 7}}}},
    {"data": {"values": [{"t": "A", "w": 383, "v": 0.926}]},
     "mark": {"type": "text", "align": "left", "baseline": "alphabetic", "fontSize": 36, "font": "Open Sans", "color": "black"},
     "encoding": {"x": {"field": "w", "type": "quantitative"}, "y": {"field": "v", "type": "quantitative"}, "text": {"field": "t"}}}
   ]},
  {"width": 391, "height": 312, "data": {"name": "c"},
   "layer": [
    {"mark": {"type": "line", "strokeWidth": 2},
     "encoding": {
      "x": {"field": "w", "type": "quantitative", "scale": {"domain": [375, 600], "nice": false}, "axis": {"values": [400, 450, 500, 550, 600], "title": null}},
      "y": {"field": "v", "type": "quantitative", "scale": {"domain": [0, 1], "nice": false}, "axis": {"values": [0, 0.2, 0.4, 0.6, 0.8, 1], "title": "Normalized Intensity (AU)"}},
      "color": {"field": "s", "type": "nominal", "scale": {"domain": ["NAD(P)H", "Control Cells", "Healthy Tissue", "Necrosis Tissue"], "range": ["#14913a", "#414a5c", "#1272b8", "#c8102e"]}, "legend": {"orient": "none", "legendX": 93, "legendY": 183, "rowPadding": 2}}}},
    {"data": {"values": [{"t": "C", "w": 383.5, "v": 0.926}]},
     "mark": {"type": "text", "align": "left", "baseline": "alphabetic", "fontSize": 36, "font": "Open Sans", "color": "black"},
     "encoding": {"x": {"field": "w", "type": "quantitative"}, "y": {"field": "v", "type": "quantitative"}, "text": {"field": "t"}}}
   ]},
  {"width": 391, "height": 130, "data": {"name": "b"},
   "layer": [
    {"mark": {"type": "errorband", "band": {"opacity": 0.35}},
     "encoding": {
      "x": {"field": "w", "type": "quantitative", "scale": {"domain": [375, 600], "nice": false}, "axis": {"values": [400, 450, 500, 550, 600], "title": "Wavelength(nm)"}},
      "y": {"field": "v", "type": "quantitative", "scale": {"domain": [1.5, 4], "nice": false}, "axis": {"values": [2, 3, 4], "title": "Average Lifetime (ns)"}},
      "yError": {"field": "e"},
      "color": {"field": "s", "type": "nominal", "scale": {"domain": ["Control", "NaN₃", "Saponin"], "range": ["#414a5c", "#13857f", "#f5a93b"]}, "legend": null}}},
    {"mark": {"type": "line", "strokeWidth": 2},
     "encoding": {
      "x": {"field": "w", "type": "quantitative"},
      "y": {"field": "v", "type": "quantitative"},
      "color": {"field": "s", "type": "nominal", "legend": null}}},
    {"data": {"values": [{"t": "B", "w": 383, "v": 3.42}]},
     "mark": {"type": "text", "align": "left", "baseline": "alphabetic", "fontSize": 36, "font": "Open Sans", "color": "black"},
     "encoding": {"x": {"field": "w", "type": "quantitative"}, "y": {"field": "v", "type": "quantitative"}, "text": {"field": "t"}}}
   ]},
  {"width": 391, "height": 130, "data": {"name": "d"},
   "layer": [
    {"mark": {"type": "line", "strokeWidth": 2},
     "encoding": {
      "x": {"field": "w", "type": "quantitative", "scale": {"domain": [375, 600], "nice": false}, "axis": {"values": [400, 450, 500, 550, 600], "title": "Wavelength (nm)"}},
      "y": {"field": "v", "type": "quantitative", "scale": {"domain": [0, 4], "nice": false}, "axis": {"values": [0, 2, 4], "title": "Average Lifetime (ns)"}},
      "color": {"field": "s", "type": "nominal", "scale": {"domain": ["NAD(P)H", "Control Cells", "Healthy Tissue", "Necrosis Tissue"], "range": ["#14913a", "#414a5c", "#1272b8", "#c8102e"]}, "legend": null}}},
    {"data": {"values": [{"t": "D", "w": 383.5, "v": 3.08}]},
     "mark": {"type": "text", "align": "left", "baseline": "alphabetic", "fontSize": 36, "font": "Open Sans", "color": "black"},
     "encoding": {"x": {"field": "w", "type": "quantitative"}, "y": {"field": "v", "type": "quantitative"}, "text": {"field": "t"}}}
   ]}
]
}
